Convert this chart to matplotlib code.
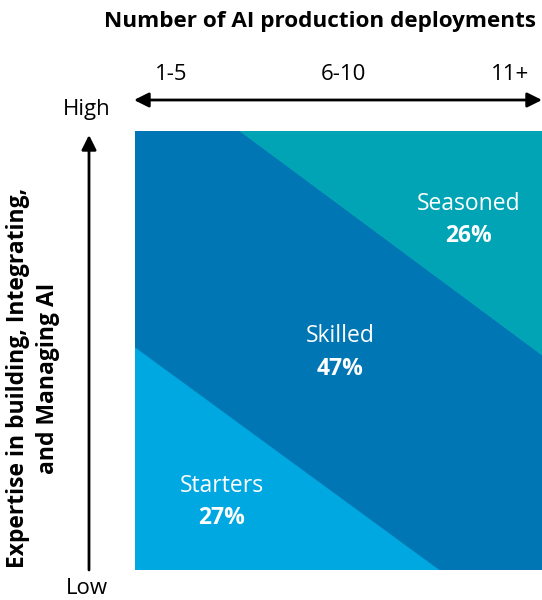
import matplotlib.pyplot as plt
from matplotlib.patches import Polygon

plt.rcParams['font.family'] = ['Open Sans', 'DejaVu Sans']

segments = ['Starters', 'Skilled', 'Seasoned']
shares = [27, 47, 26]
colors = ['#00A8E1', '#0077B4', '#00A4B5']
x_ticks = ['1-5', '6-10', '11+']
x_title = 'Number of AI production deployments'
y_title = 'Expertise in building, Integrating,\nand Managing AI'
y_ends = ['Low', 'High']

# boundaries of the bands (data units, square 0..1)
starters_edge = [(0.0, 0.508), (0.749, 0.0)]
seasoned_edge = [(0.258, 1.0), (1.0, 0.49)]
# label anchor points (data units)
label_pos = [(0.214, 0.155), (0.504, 0.495), (0.82, 0.797)]

W, H = 542, 600
fig = plt.figure(figsize=(W / 100, H / 100), dpi=100)

def fx(px):
    return px / W

def fy(py):
    return 1 - py / H

ax = fig.add_axes([fx(135), fy(570), (542 - 135) / W, (570 - 131) / H])
ax.set_xlim(0, 1)
ax.set_ylim(0, 1)
ax.axis('off')

polys = [
    [(0, 0)] + starters_edge,
    [(0, 1)] + seasoned_edge + [(1, 0)] + starters_edge[::-1],
    seasoned_edge + [(1, 1)],
]
for pts, c in zip(polys, colors):
    ax.add_patch(Polygon(pts, closed=True, facecolor=c, edgecolor=c, lw=0.5))

for (x, y), name, s in zip(label_pos, segments, shares):
    ax.text(x, y + 0.037, name, color='white', fontsize=16.5, ha='center', va='center')
    ax.text(x, y - 0.037, f'{s}%', color='white', fontsize=16.5, fontweight='bold',
            ha='center', va='center')

# top axis
fig.text(fx(536), fy(22), x_title, fontsize=16.2, fontweight='bold', ha='right', va='center')
for lab, px in zip(x_ticks, [171, 343, 510]):
    fig.text(fx(px), fy(75), lab, fontsize=16, ha='center', va='center')
arrow = dict(arrowstyle='<|-|>', color='black', lw=2, mutation_scale=22, shrinkA=0, shrinkB=0)
fig.add_artist(plt.Annotation('', xy=(fx(542), fy(100)), xytext=(fx(134), fy(100)),
                              xycoords='figure fraction', arrowprops=arrow))

# left axis
up = dict(arrowstyle='-|>', color='black', lw=2, mutation_scale=22, shrinkA=0, shrinkB=0)
fig.add_artist(plt.Annotation('', xy=(fx(89), fy(135)), xytext=(fx(89), fy(570)),
                              xycoords='figure fraction', arrowprops=up))
fig.text(fx(87), fy(110), y_ends[1], fontsize=16, ha='center', va='center')
fig.text(fx(87), fy(588), y_ends[0], fontsize=16, ha='center', va='center')
fig.text(fx(33), fy(378), y_title, fontsize=16.5, fontweight='bold', rotation=90,
         ha='center', va='center', multialignment='center', linespacing=1.35)

fig.savefig('out.png', dpi=100)
